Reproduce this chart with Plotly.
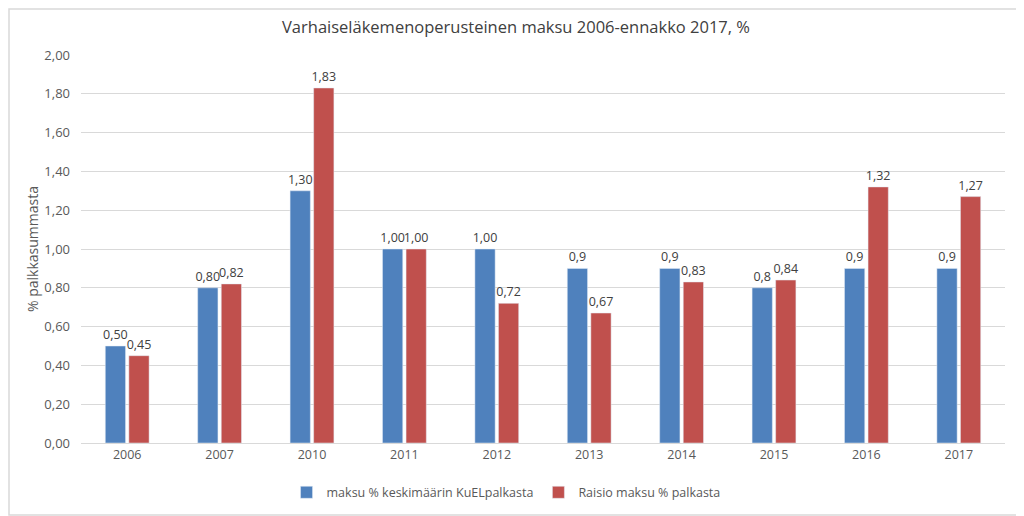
import plotly.graph_objects as go

# vuodet ja arvot
vuodet = ["2006", "2007", "2010", "2011", "2012", "2013", "2014", "2015", "2016", "2017"]
keskimaarin = [0.50, 0.80, 1.30, 1.00, 1.00, 0.90, 0.90, 0.80, 0.90, 0.90]
keskimaarin_txt = ["0,50", "0,80", "1,30", "1,00", "1,00", "0,9", "0,9", "0,8", "0,9", "0,9"]
raisio = [0.45, 0.82, 1.83, 1.00, 0.72, 0.67, 0.83, 0.84, 1.32, 1.27]
y_ticks = [0.0, 0.2, 0.4, 0.6, 0.8, 1.0, 1.2, 1.4, 1.6, 1.8, 2.0]

fnt = "Open Sans, Noto Sans, sans-serif"
harmaa = "#595959"

fig = go.Figure()

fig.add_trace(go.Bar(
    x=vuodet, y=keskimaarin, name="maksu % keskimäärin KuELpalkasta",
    marker_color="#4F81BD", text=keskimaarin_txt, textposition="outside",
    constraintext="none", textfont=dict(size=12.5, color="#404040"), cliponaxis=False,
))
fig.add_trace(go.Bar(
    x=vuodet, y=raisio, name="Raisio maksu % palkasta",
    marker_color="#C0504D", texttemplate="%{y:.2f}", textposition="outside",
    constraintext="none", textfont=dict(size=12.5, color="#404040"), cliponaxis=False,
))

# sivun oletusmarginaali 8px huomioitu
L, R, T, B = 73, 19, 47, 73
W, H = 1016, 508
pw, ph = W - L - R, H - T - B

fig.update_layout(
    width=W, height=H,
    margin=dict(l=L, r=R, t=T, b=B, autoexpand=False),
    separators=", ",
    paper_bgcolor="white", plot_bgcolor="white",
    font=dict(family=fnt, color=harmaa, size=12),
    title=dict(text="Varhaiseläkemenoperusteinen maksu 2006-ennakko 2017, %",
               x=0.5, xanchor="center", y=1 - 19 / H, yanchor="middle",
               font=dict(size=16.5, color="#404040")),
    barmode="group", bargap=0.49, bargroupgap=0.14,
    legend=dict(orientation="h", x=0.46, xanchor="center", y=-0.128, yanchor="middle",
                font=dict(size=12.5, color=harmaa), traceorder="normal"),
    shapes=[dict(type="rect", xref="paper", yref="paper",
                 x0=-(L - 1) / pw, x1=1 + (R - 1) / pw,
                 y0=-(B - 1) / ph, y1=1 + (T - 1) / ph,
                 line=dict(color="#D9D9D9", width=1.5), layer="below")],
)

fig.update_xaxes(showline=True, linecolor="#D9D9D9", linewidth=1, ticks="",
                 automargin=False, tickfont=dict(size=12.5, color=harmaa))
fig.update_yaxes(range=[0, 2.0], tickvals=y_ticks, tickformat=".2f",
                 showgrid=True, gridcolor="#D9D9D9", gridwidth=1, zeroline=False,
                 ticks="", ticklabelstandoff=10, automargin=False,
                 tickfont=dict(size=13, color=harmaa),
                 title=dict(text="% palkkasummasta", font=dict(size=14, color=harmaa), standoff=2))

fig.write_html("out.html")
